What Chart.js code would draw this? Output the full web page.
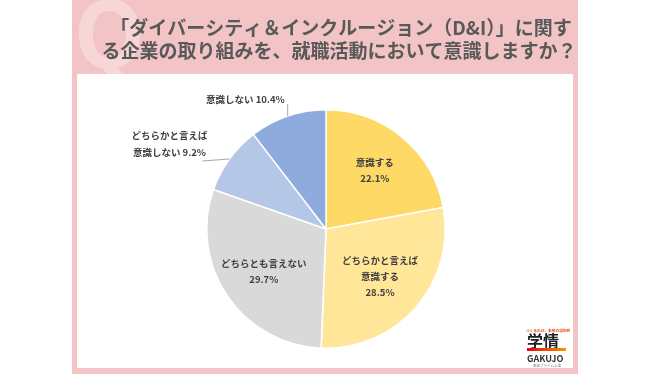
<!DOCTYPE html>
<html><head><meta charset="utf-8">
<script src="https://cdn.jsdelivr.net/npm/chart.js@4"></script>
<style>html,body{margin:0;padding:0;background:#fff}#wrap{width:650px;height:380px;position:relative}</style>
</head><body><div id="wrap"><canvas id="c" width="650" height="380"></canvas></div>
<script>
const titleLines = ['「ダイバーシティ＆インクルージョン（D&I）」に関す', 'る企業の取り組みを、就職活動において意識しますか？'];
const categories = ['意識する', 'どちらかと言えば意識する', 'どちらとも言えない', 'どちらかと言えば意識しない', '意識しない'];
const categoryLines = [['意識する'], ['どちらかと言えば', '意識する'], ['どちらとも言えない'], ['どちらかと言えば', '意識しない'], ['意識しない']];
const values = [22.1, 28.5, 29.7, 9.2, 10.4];
const colors = ['#FFD966', '#FFE699', '#D9D9D9', '#B4C7E7', '#8FAADC'];

const FONT = '"Noto Sans CJK JP", "Noto Sans", sans-serif';
// label placement styles (per slice)
const labelStyle = [
  {mode: 'in', r: 0.64},
  {mode: 'in', r: 0.60},
  {mode: 'in', r: 0.63},
  {mode: 'out', dx: -27, dy: 2},
  {mode: 'out', dx: 0, dy: -12}
];

const background = {
  id: 'background',
  beforeDraw(chart) {
    const ctx = chart.ctx;
    ctx.save();
    ctx.fillStyle = '#fff';
    ctx.fillRect(0, 0, chart.width, chart.height);
    ctx.fillStyle = '#F2C4C6';
    ctx.fillRect(72, 0, 506, 374);
    // watermark Q
    ctx.fillStyle = 'rgba(255,255,255,0.3)';
    ctx.font = 'bold 92px ' + FONT;
    ctx.textBaseline = 'alphabetic';
    ctx.textAlign = 'left';
    ctx.fillText('Q', 74, 68);
    ctx.fillStyle = '#fff';
    ctx.fillRect(77, 74, 496, 294);
    // title
    ctx.fillStyle = '#595959';
    ctx.font = 'bold 19px ' + FONT;
    ctx.textAlign = 'center';
    ctx.textBaseline = 'middle';
    ctx.fillText(titleLines[0], 341, 28);
    ctx.fillText(titleLines[1], 339, 51);
    // logo
    ctx.fillStyle = '#E8531E';
    ctx.font = 'bold 3.7px ' + FONT;
    ctx.textAlign = 'left';
    ctx.fillText('つくるのは、未来の選択肢', 526, 331);
    ctx.fillStyle = '#222';
    ctx.font = 'bold 16px ' + FONT;
    ctx.fillText('学情', 527, 341);
    const g = ctx.createLinearGradient(527, 0, 566, 0);
    g.addColorStop(0, '#E60012');
    g.addColorStop(1, '#F39800');
    ctx.fillStyle = g;
    ctx.fillRect(527, 348, 39, 3);
    ctx.fillStyle = '#333';
    ctx.font = 'bold 9px ' + FONT;
    ctx.fillText('GAKUJO', 527, 359);
    ctx.fillStyle = '#777';
    ctx.font = '3.5px ' + FONT;
    ctx.fillText('東証プライム上場', 533, 365.5);
    ctx.restore();
  }
};

const sliceLabels = {
  id: 'sliceLabels',
  afterDatasetsDraw(chart) {
    const ctx = chart.ctx;
    const meta = chart.getDatasetMeta(0);
    ctx.save();
    ctx.fillStyle = '#404040';
    ctx.font = 'bold 9.5px ' + FONT;
    ctx.textBaseline = 'middle';
    meta.data.forEach((arc, i) => {
      const p = arc.getProps(['x', 'y', 'startAngle', 'endAngle', 'outerRadius'], true);
      const mid = (p.startAngle + p.endAngle) / 2;
      const pct = values[i].toFixed(1) + '%';
      const st = labelStyle[i];
      const lh = 16;
      if (st.mode === 'in') {
        const lines = categoryLines[i].concat([pct]);
        const cx = p.x + Math.cos(mid) * p.outerRadius * st.r;
        const cy = p.y + Math.sin(mid) * p.outerRadius * st.r;
        ctx.textAlign = 'center';
        lines.forEach((t, k) => ctx.fillText(t, cx, cy + (k - (lines.length - 1) / 2) * lh));
      } else {
        const lines = categoryLines[i].slice();
        lines[lines.length - 1] += ' ' + pct;
        const ex = p.x + Math.cos(mid) * p.outerRadius;
        const ey = p.y + Math.sin(mid) * p.outerRadius;
        const lx = ex + st.dx, ly = ey + st.dy;
        ctx.strokeStyle = '#A6A6A6';
        ctx.lineWidth = 1;
        ctx.beginPath();
        ctx.moveTo(ex, ey);
        ctx.lineTo(lx, ly);
        ctx.stroke();
        const w = Math.max(...lines.map(t => ctx.measureText(t).width));
        let right, lastY;
        if (st.dy < -5) { right = lx - 3; lastY = ly - 5; }
        else { right = lx + 5; lastY = ly - 9; }
        ctx.textAlign = 'center';
        const cx = right - w / 2;
        lines.forEach((t, k) => ctx.fillText(t, cx, lastY - (lines.length - 1 - k) * 17));
      }
    });
    ctx.restore();
  }
};

new Chart(document.getElementById('c'), {
  type: 'pie',
  data: {
    labels: categories,
    datasets: [{
      data: values,
      backgroundColor: colors,
      borderColor: '#fff',
      borderWidth: 1.5
    }]
  },
  options: {
    responsive: false,
    animation: false,
    layout: {padding: {top: 109, bottom: 31, left: 206, right: 204}},
    plugins: {legend: {display: false}, tooltip: {enabled: false}, title: {display: false}}
  },
  plugins: [background, sliceLabels]
});
</script></body></html>
